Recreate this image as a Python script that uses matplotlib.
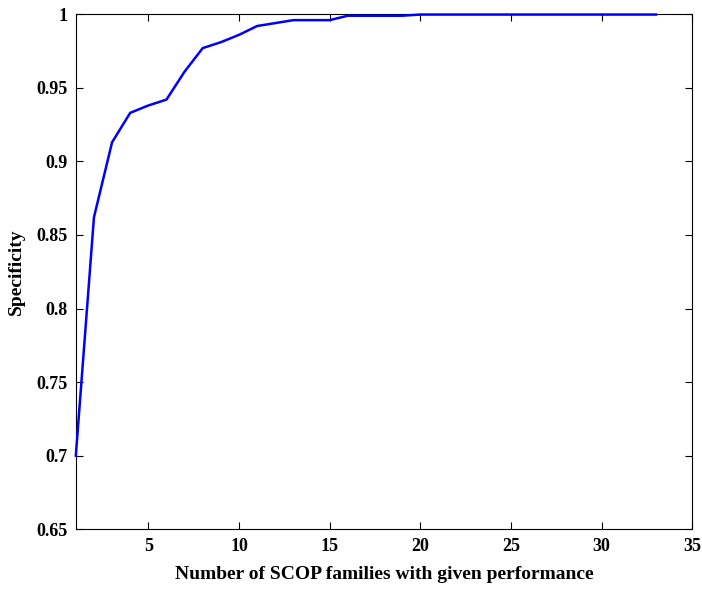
import matplotlib
matplotlib.use("Agg")
import matplotlib.pyplot as plt

# values
families = [1, 2, 3, 4, 5, 6, 7, 8, 9, 10, 11, 12, 13, 14, 15, 16, 17, 18, 19,
            20, 21, 22, 23, 24, 25, 26, 27, 28, 29, 30, 31, 32, 33]
specificity = [0.700, 0.862, 0.913, 0.933, 0.938, 0.942, 0.961, 0.977, 0.981,
               0.986, 0.992, 0.994, 0.996, 0.996, 0.996, 0.999, 0.999, 0.999,
               0.999, 0.9998, 0.9998, 0.9998, 0.9998, 0.9998, 0.9998, 0.9998,
               0.9998, 0.9998, 0.9998, 0.9998, 0.9998, 0.9998, 0.9998]

xticks = [5, 10, 15, 20, 25, 30, 35]
yticks = [0.65, 0.7, 0.75, 0.8, 0.85, 0.9, 0.95, 1]
ytick_labels = ["0.65", "0.7", "0.75", "0.8", "0.85", "0.9", "0.95", "1"]

plt.rcParams["font.family"] = ["Liberation Serif", "DejaVu Serif"]
plt.rcParams["font.weight"] = "bold"

fig = plt.figure(figsize=(7.02, 5.94), dpi=100)
ax = fig.add_axes([0.108, 0.109, 0.878, 0.867])
ax.plot(families, specificity, color="#0000ff", linewidth=1.8,
        zorder=3, clip_on=False)

ax.set_xlim(1, 35)
ax.set_ylim(0.65, 1)
ax.set_xticks(xticks)
ax.set_yticks(yticks)
ax.set_yticklabels(ytick_labels)
ax.tick_params(direction="in", top=True, right=True, length=5, width=0.8,
               labelsize=13, pad=6)
for s in ax.spines.values():
    s.set_linewidth(0.8)

ax.set_xlabel("Number of SCOP families with given performance", fontsize=14,
              fontweight="bold", labelpad=8)
ax.set_ylabel("Specificity", fontsize=14, fontweight="bold", labelpad=8)

fig.savefig("out.png", dpi=100)
